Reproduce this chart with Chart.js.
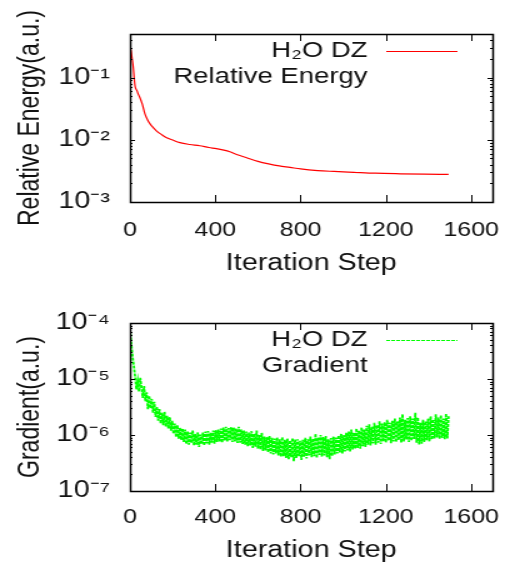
<!DOCTYPE html>
<html>
<head>
<meta charset="utf-8">
<script src="https://cdn.jsdelivr.net/npm/chart.js@4.4.1/dist/chart.umd.min.js"></script>
<style>
  html, body { margin: 0; padding: 0; background: #fff; }
  #page { width: 530px; height: 566px; overflow: hidden; }
  /* the original figure is stretched sideways, so each panel is drawn narrow and widened */
  .panel { width: 424px; height: 283px; transform: scaleX(1.25); transform-origin: 0 0; }
</style>
</head>
<body>
<div id="page">
  <div class="panel"><canvas id="energyChart"></canvas></div>
  <div class="panel"><canvas id="gradChart"></canvas></div>
</div>
<script>
const xTicks = [0, 400, 800, 1200, 1600];

// relative energy
const energySteps = [0, 5, 10, 15, 20, 24, 32, 40, 48, 58, 70, 82, 94, 110, 125, 150, 172, 200, 234, 280,
  327, 370, 405, 440, 468, 500, 550, 600, 650, 700, 750, 800, 880, 956, 1050, 1150, 1268, 1380, 1494];
const energyValues = [0.30, 0.27, 0.20, 0.15, 0.095, 0.072, 0.062, 0.053, 0.046, 0.037, 0.026, 0.021, 0.018, 0.0155, 0.0138, 0.0120, 0.0108, 0.0099, 0.0090, 0.0084,
  0.0080, 0.0075, 0.0072, 0.0068, 0.0064, 0.0058, 0.0051, 0.0045, 0.0041, 0.0038, 0.0036, 0.0034, 0.0032, 0.0031, 0.0030, 0.0029, 0.00284, 0.0028, 0.00277];
const energyTicks = [1e-3, 1e-2, 1e-1];
const energyTickLabels = ['10⁻³', '10⁻²', '10⁻¹'];

// gradient, one reading every 6 steps (noisy band)
const gradEvery = 6;
const gradValues = [
  7.6e-5, 4.2e-5, 2.5e-5, 1.7e-5, 1.1e-5, 6.5e-6, 9.2e-6, 6.0e-6, 1.05e-5, 7.0e-6,
  4.6e-6, 7.5e-6, 4.0e-6, 5.8e-6, 2.9e-6, 5.0e-6, 3.0e-6, 4.4e-6, 2.5e-6, 3.9e-6,
  2.1e-6, 3.2e-6, 1.8e-6, 2.9e-6, 1.6e-6, 2.5e-6, 1.5e-6, 2.6e-6, 1.4e-6, 2.2e-6,
  1.3e-6, 2.1e-6, 1.2e-6, 1.8e-6, 1.05e-6, 1.6e-6, 9.2e-7, 1.5e-6, 8.6e-7, 1.35e-6,
  8.2e-7, 1.3e-6, 7.5e-7, 1.25e-6, 6.9e-7, 1.15e-6, 6.7e-7, 1.1e-6, 7.2e-7, 1.2e-6,
  6.5e-7, 1.05e-6, 6.7e-7, 1.12e-6, 6.1e-7, 1.02e-6, 6.9e-7, 1.1e-6, 6.5e-7, 1.15e-6,
  7.1e-7, 1.17e-6, 6.7e-7, 1.1e-6, 7.3e-7, 1.2e-6, 7.0e-7, 1.23e-6, 7.5e-7, 1.25e-6,
  7.7e-7, 1.3e-6, 7.3e-7, 1.36e-6, 7.9e-7, 1.4e-6, 7.7e-7, 1.33e-6, 8.1e-7, 1.38e-6,
  7.5e-7, 1.36e-6, 7.7e-7, 1.3e-6, 7.2e-7, 1.4e-6, 7.3e-7, 1.25e-6, 6.9e-7, 1.2e-6,
  6.7e-7, 1.15e-6, 6.3e-7, 1.1e-6, 6.5e-7, 1.17e-6, 5.9e-7, 1.05e-6, 6.2e-7, 1.2e-6,
  5.7e-7, 1.0e-6, 5.5e-7, 1.1e-6, 5.2e-7, 9.4e-7, 5.3e-7, 9.2e-7, 4.9e-7, 9.6e-7,
  4.7e-7, 8.9e-7, 4.5e-7, 8.6e-7, 4.7e-7, 9.0e-7, 4.3e-7, 8.4e-7, 4.1e-7, 9.2e-7,
  4.2e-7, 8.2e-7, 3.9e-7, 8.6e-7, 3.7e-7, 8.0e-7, 4.0e-7, 8.8e-7, 3.4e-7, 8.3e-7,
  3.9e-7, 8.4e-7, 4.2e-7, 7.9e-7, 3.6e-7, 8.2e-7, 4.1e-7, 8.9e-7, 3.8e-7, 8.4e-7,
  4.3e-7, 9.4e-7, 4.0e-7, 8.6e-7, 4.2e-7, 1.05e-6, 3.9e-7, 9.0e-7, 4.4e-7, 1.0e-6,
  4.1e-7, 9.2e-7, 4.3e-7, 9.6e-7, 4.0e-7, 8.4e-7, 3.7e-7, 8.8e-7, 4.2e-7, 9.4e-7,
  4.5e-7, 9.0e-7, 4.7e-7, 9.8e-7, 4.9e-7, 1.05e-6, 4.7e-7, 1.0e-6, 5.1e-7, 1.1e-6,
  5.3e-7, 1.15e-6, 5.1e-7, 1.25e-6, 5.5e-7, 1.1e-6, 5.7e-7, 1.3e-6, 5.9e-7, 1.2e-6,
  5.7e-7, 1.36e-6, 6.3e-7, 1.25e-6, 6.1e-7, 1.46e-6, 6.7e-7, 1.56e-6, 6.5e-7, 1.4e-6,
  7.1e-7, 1.66e-6, 6.7e-7, 1.5e-6, 7.3e-7, 1.76e-6, 6.9e-7, 1.6e-6, 7.7e-7, 1.7e-6,
  7.3e-7, 1.86e-6, 7.9e-7, 1.66e-6, 7.1e-7, 1.8e-6, 7.7e-7, 1.96e-6, 7.5e-7, 1.76e-6,
  8.1e-7, 2.06e-6, 7.3e-7, 2.35e-6, 7.7e-7, 1.86e-6, 8.3e-7, 2.0e-6, 7.5e-7, 2.16e-6,
  7.9e-7, 1.96e-6, 8.5e-7, 2.5e-6, 7.3e-7, 2.06e-6, 6.8e-7, 1.66e-6, 7.0e-7, 1.86e-6,
  7.5e-7, 1.76e-6, 8.1e-7, 1.96e-6, 7.7e-7, 2.16e-6, 8.3e-7, 1.9e-6, 8.7e-7, 2.35e-6,
  9.0e-7, 2.06e-6, 8.5e-7, 2.26e-6, 8.9e-7, 1.96e-6, 8.4e-7, 2.4e-6, 8.7e-7, 2.16e-6
];
const gradTicks = [1e-7, 1e-6, 1e-5, 1e-4];
const gradTickLabels = ['10⁻⁷', '10⁻⁶', '10⁻⁵', '10⁻⁴'];

const FONT = '"Liberation Sans", Arial, sans-serif';
const INK = '#111';

// gnuplot style box: border, inward ticks on all four sides, and the key
const gnuFrame = {
  id: 'gnuFrame',
  afterDatasetsDraw(chart, args, opts) {
    const { ctx, chartArea: a, scales } = chart;
    ctx.save();
    ctx.strokeStyle = '#000';
    ctx.lineWidth = 1;
    ctx.beginPath();
    scales.x.ticks.forEach(t => {
      const px = Math.round(scales.x.getPixelForValue(t.value)) + 0.5;
      ctx.moveTo(px, a.bottom); ctx.lineTo(px, a.bottom - 7);
      ctx.moveTo(px, a.top); ctx.lineTo(px, a.top + 7);
    });
    const y = scales.y;
    for (let e = Math.floor(Math.log10(y.min)); e <= Math.ceil(Math.log10(y.max)); e++) {
      for (let m = 1; m <= 9; m++) {
        const v = m * Math.pow(10, e);
        if (v < y.min * 0.999 || v > y.max * 1.001) continue;
        const py = Math.round(y.getPixelForValue(v)) + 0.5;
        const len = m === 1 ? 4 : 2;
        ctx.moveTo(a.left, py); ctx.lineTo(a.left + len, py);
        ctx.moveTo(a.right, py); ctx.lineTo(a.right - len, py);
      }
    }
    ctx.stroke();
    ctx.lineWidth = 1.5;
    ctx.strokeRect(Math.round(a.left) + 0.5, Math.round(a.top) + 0.5,
      Math.round(a.right - a.left), Math.round(a.bottom - a.top));

    // key
    ctx.font = '22px ' + FONT;
    ctx.fillStyle = INK;
    ctx.textAlign = 'right';
    ctx.textBaseline = 'alphabetic';
    opts.lines.forEach((s, i) => ctx.fillText(s, a.right - 100, a.top + 23 + i * 26));
    const ds = chart.data.datasets[0];
    ctx.strokeStyle = ds.borderColor;
    ctx.lineWidth = 1;
    ctx.setLineDash(ds.borderDash || []);
    ctx.beginPath();
    ctx.moveTo(a.right - 85, a.top + 17.5);
    ctx.lineTo(a.right - 28, a.top + 17.5);
    ctx.stroke();
    ctx.restore();
  }
};

function makeOptions(p) {
  return {
    responsive: true,
    maintainAspectRatio: false,
    animation: false,
    events: [],
    layout: { padding: { top: p.top, right: 30, left: 0, bottom: 0 } },
    plugins: {
      legend: { display: false },
      tooltip: { enabled: false },
      gnuFrame: { lines: p.key }
    },
    scales: {
      x: {
        type: 'linear',
        min: 0,
        max: 1700,
        afterBuildTicks: s => { s.ticks = xTicks.map(v => ({ value: v })); },
        afterFit: s => { s.height = p.xHeight; },
        grid: { display: false, drawTicks: false },
        border: { display: false },
        ticks: { color: INK, font: { family: FONT, size: 20 }, padding: p.xPad, maxRotation: 0,
          callback: v => String(v) },
        title: { display: true, text: 'Iteration Step', color: INK,
          font: { family: FONT, size: 23 }, padding: { top: 0, bottom: p.xTitlePad } }
      },
      y: {
        type: 'logarithmic',
        min: p.yMin,
        max: p.yMax,
        afterBuildTicks: s => { s.ticks = p.yTicks.map(v => ({ value: v })); },
        afterFit: s => { s.width = 104; },
        grid: { display: false, drawTicks: false },
        border: { display: false },
        ticks: {
          color: INK, font: { family: FONT, size: 23 }, padding: 16,
          callback: v => { const i = p.yTicks.indexOf(v); return i < 0 ? '' : p.yLabels[i]; }
        },
        title: { display: true, text: p.yTitle, color: INK,
          font: { family: FONT, size: 23 }, padding: { top: 11, bottom: 0 } }
      }
    }
  };
}

new Chart(document.getElementById('energyChart'), {
  type: 'line',
  data: {
    datasets: [{
      label: 'H₂O DZ',
      data: energySteps.map((s, i) => ({ x: s, y: energyValues[i] })),
      borderColor: '#ff0000',
      borderWidth: 1.2,
      pointRadius: 0,
      cubicInterpolationMode: 'monotone'
    }]
  },
  options: makeOptions({
    top: 34, xHeight: 81, xPad: 16, xTitlePad: 6,
    yMin: 1e-3, yMax: 0.5, yTicks: energyTicks, yLabels: energyTickLabels,
    yTitle: 'Relative Energy(a.u.)', key: ['H₂O DZ', 'Relative Energy']
  }),
  plugins: [gnuFrame]
});

new Chart(document.getElementById('gradChart'), {
  type: 'line',
  data: {
    datasets: [{
      label: 'H₂O DZ',
      data: gradValues.map((v, i) => ({ x: i * gradEvery, y: v })),
      borderColor: '#00ff00',
      borderWidth: 1.8,
      borderDash: [3, 1],
      pointRadius: 0,
      tension: 0
    }]
  },
  options: makeOptions({
    top: 40, xHeight: 75, xPad: 14, xTitlePad: 2,
    yMin: 1e-7, yMax: 1e-4, yTicks: gradTicks, yLabels: gradTickLabels,
    yTitle: 'Gradient(a.u.)', key: ['H₂O DZ', 'Gradient']
  }),
  plugins: [gnuFrame]
});
</script>
</body>
</html>
